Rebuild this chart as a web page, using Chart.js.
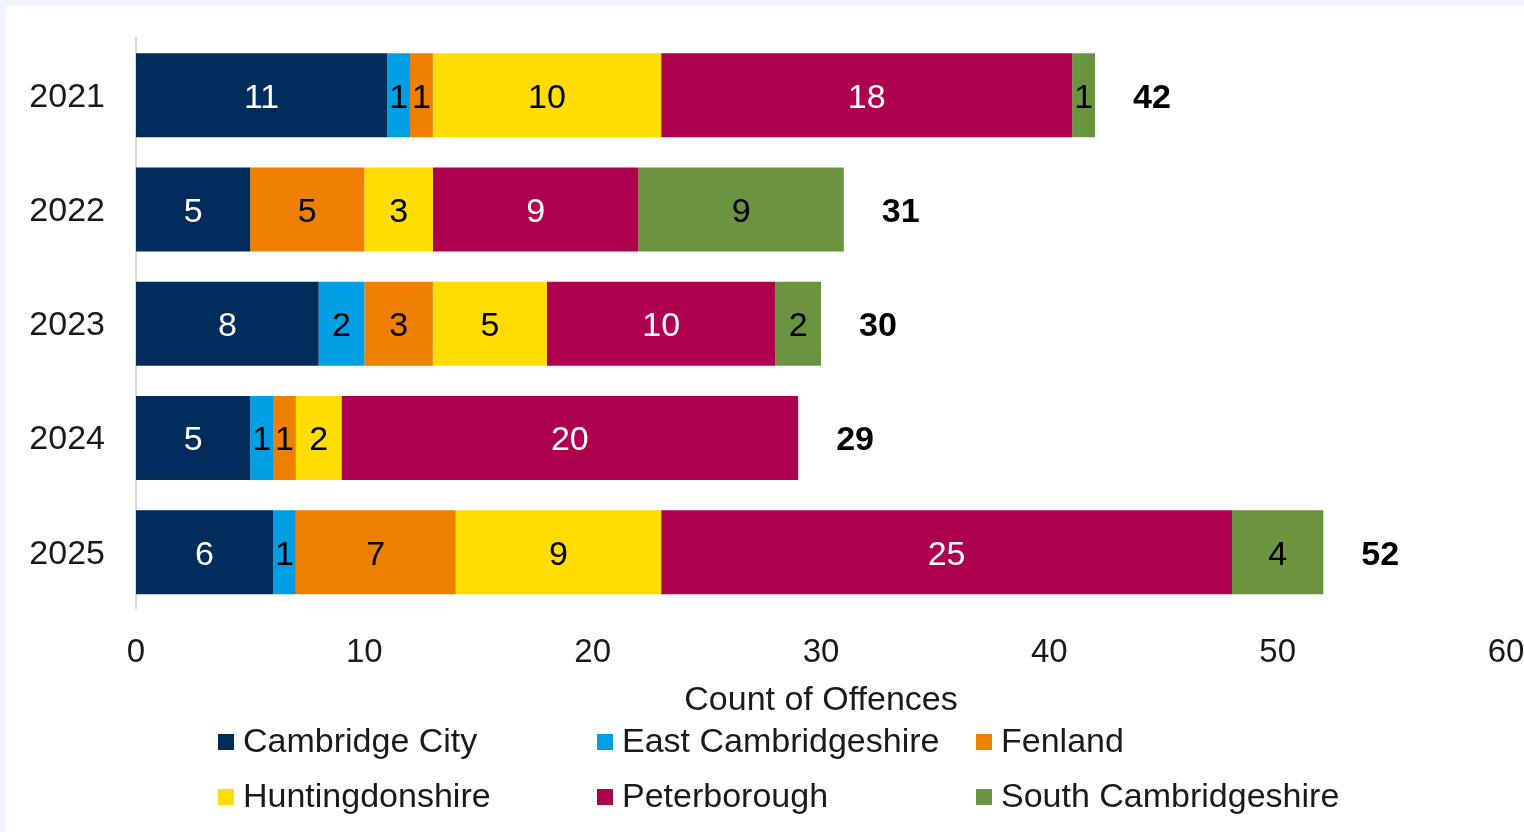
<!DOCTYPE html>
<html>
<head>
<meta charset="utf-8">
<script src="https://cdn.jsdelivr.net/npm/chart.js@4"></script>
<style>
  html, body { margin: 0; padding: 0; background: #EEF5FE; }
  #wrap { position: absolute; left: 6px; top: 6px; width: 1518px; height: 826px; background: #ffffff; }
</style>
</head>
<body>
<div id="wrap"><canvas id="offenceChart" width="1518" height="826"></canvas></div>
<script>
// Offences by district, stacked per year

const years = ['2021', '2022', '2023', '2024', '2025'];
const districts = ['Cambridge City', 'East Cambridgeshire', 'Fenland', 'Huntingdonshire', 'Peterborough', 'South Cambridgeshire'];
const cambridgeCity = [11, 5, 8, 5, 6];
const eastCambs = [1, 0, 2, 1, 1];
const fenland = [1, 5, 3, 1, 7];
const huntingdonshire = [10, 3, 5, 2, 9];
const peterborough = [18, 9, 10, 20, 25];
const southCambs = [1, 9, 2, 0, 4];
const xTicks = [0, 10, 20, 30, 40, 50, 60];

const seriesValues = [cambridgeCity, eastCambs, fenland, huntingdonshire, peterborough, southCambs];
const colours = ['#002D5C', '#009FE3', '#EE7F00', '#FFDD00', '#AF0050', '#6A9440'];
const labelColours = ['#ffffff', '#000000', '#000000', '#000000', '#ffffff', '#000000'];

const FONT = '"Liberation Sans", Arial, sans-serif';

// values inside each segment plus bold totals at the end of each bar
const barLabels = {
    id: 'barLabels',
    afterDatasetsDraw(chart) {
        const ctx = chart.ctx;
        ctx.save();
        ctx.textAlign = 'center';
        ctx.textBaseline = 'middle';
        ctx.font = '34px ' + FONT;
        chart.data.datasets.forEach((ds, i) => {
            const meta = chart.getDatasetMeta(i);
            meta.data.forEach((bar, j) => {
                const v = ds.data[j];
                if (!v) return;
                ctx.fillStyle = labelColours[i];
                ctx.fillText(String(v), (bar.x + bar.base) / 2, bar.y + 3);
            });
        });
        // totals
        const xScale = chart.scales.x;
        const last = chart.getDatasetMeta(chart.data.datasets.length - 1);
        ctx.font = 'bold 34px ' + FONT;
        ctx.textAlign = 'left';
        ctx.fillStyle = '#000000';
        years.forEach((y, j) => {
            const total = seriesValues.reduce((s, arr) => s + arr[j], 0);
            ctx.fillText(String(total), xScale.getPixelForValue(total) + 38, last.data[j].y + 3);
        });
        ctx.restore();
    }
};

// legend laid out in three fixed columns
const gridLegend = {
    id: 'gridLegend',
    afterDraw(chart) {
        const ctx = chart.ctx;
        const left = chart.chartArea.left + 82;
        const colW = 379;
        const rowTop = 736;
        const rowH = 55;
        ctx.save();
        ctx.font = '34px ' + FONT;
        ctx.textBaseline = 'middle';
        ctx.textAlign = 'left';
        districts.forEach((name, i) => {
            const col = i % 3;
            const row = Math.floor(i / 3);
            const x = left + col * colW;
            const y = rowTop + row * rowH;
            ctx.fillStyle = colours[i];
            ctx.fillRect(x, y - 8, 16, 16);
            ctx.fillStyle = '#1a1a1a';
            ctx.fillText(name, x + 25, y + 1);
        });
        ctx.restore();
    }
};

new Chart(document.getElementById('offenceChart').getContext('2d'), {
    type: 'bar',
    data: {
        labels: years,
        datasets: districts.map((name, i) => ({
            label: name,
            data: seriesValues[i],
            backgroundColor: colours[i],
            borderWidth: 0,
            categoryPercentage: 1,
            barPercentage: 0.735
        }))
    },
    options: {
        indexAxis: 'y',
        responsive: false,
        animation: false,
        layout: { padding: { top: 32, bottom: 111, left: 0, right: 18 } },
        plugins: {
            legend: { display: false },
            tooltip: { enabled: false }
        },
        scales: {
            x: {
                stacked: true,
                min: 0,
                max: 60,
                afterBuildTicks: (scale) => { scale.ticks = xTicks.map(v => ({ value: v })); },
                afterFit: (scale) => {
                    scale.height = 111.5;
                    scale.paddingLeft = 0;
                    scale.paddingRight = 0;
                },
                grid: { display: false, drawTicks: false },
                border: { display: false },
                ticks: { padding: 24, color: '#1a1a1a', font: { family: FONT, size: 33 } },
                title: {
                    display: true,
                    text: 'Count of Offences',
                    color: '#1a1a1a',
                    padding: 0,
                    font: { family: FONT, size: 34 }
                }
            },
            y: {
                stacked: true,
                afterFit: (scale) => {
                    scale.width = 130;
                    scale.paddingTop = 0;
                    scale.paddingBottom = 0;
                },
                grid: { display: false, drawTicks: false },
                border: { display: true, color: '#D9D9D9', width: 2 },
                ticks: { padding: 31, labelOffset: 2, color: '#1a1a1a', font: { family: FONT, size: 34 } }
            }
        }
    },
    plugins: [barLabels, gridLegend]
});
</script>
</body>
</html>
